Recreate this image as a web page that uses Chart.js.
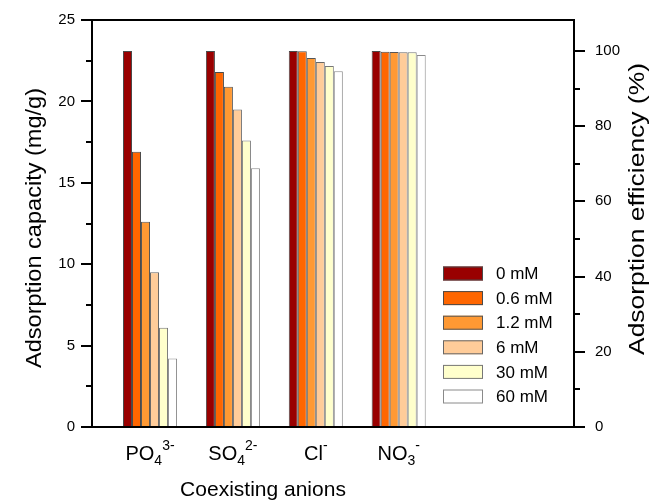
<!DOCTYPE html>
<html>
<head>
<meta charset="utf-8">
<script src="https://cdn.jsdelivr.net/npm/chart.js@4.4.1/dist/chart.umd.min.js"></script>
<style>
html,body{margin:0;padding:0;background:#ffffff;}
#wrap{width:654px;height:501px;position:relative;}
</style>
</head>
<body>
<div id="wrap"><canvas id="c" width="654" height="501"></canvas></div>
<script>
// ---- data ----
const categoryBase = ['PO', 'SO', 'Cl', 'NO'];
const categorySub  = ['4', '4', '', '3'];
const categorySup  = ['3-', '2-', '-', '-'];
const categoryPos  = [1, 2, 3, 4];

const seriesLabels = ['0 mM', '0.6 mM', '1.2 mM', '6 mM', '30 mM', '60 mM'];
const conc0   = [23.1, 23.1, 23.1, 23.1];
const conc0_6 = [16.9, 21.8, 23.08, 23.05];
const conc1_2 = [12.6, 20.9, 22.67, 23.03];
const conc6   = [9.5, 19.5, 22.42, 23.02];
const conc30  = [6.1, 17.6, 22.17, 23.02];
const conc60  = [4.2, 15.9, 21.85, 22.85];
const seriesValues = [conc0, conc0_6, conc1_2, conc6, conc30, conc60];

const leftTicks  = [0, 5, 10, 15, 20, 25];
const rightTicks = [0, 20, 40, 60, 80, 100];

// ---- styles ----
const fillColors   = ['#990000', '#FF6600', '#FF9933', '#FFCC99', '#FFFFCC', '#FFFFFF'];
const borderColors = ['#4a4a4a', '#4a4a4a', '#555555', '#666666', '#777777', '#8a8a8a'];
const FONT = "'Liberation Sans', Arial, Helvetica, sans-serif";

const leftMax = 25;
const rightMax = leftMax / conc0[0] * 100;

const datasets = seriesValues.map((vals, k) => ({
  label: seriesLabels[k],
  data: vals.map((v, i) => ({ x: categoryPos[i], y: v })),
  backgroundColor: fillColors[k],
  borderColor: borderColors[k],
  borderWidth: 1,
  borderSkipped: 'bottom',
  categoryPercentage: 0.652,
  barPercentage: 1.0,
  xAxisID: 'x',
  yAxisID: 'y'
}));

function drawRotatedTitle(ctx, text, x, yCenter, size, targetLen) {
  ctx.save();
  ctx.font = size + 'px ' + FONT;
  const w = ctx.measureText(text).width;
  const sx = targetLen / w;
  ctx.translate(x, yCenter);
  ctx.rotate(-Math.PI / 2);
  ctx.scale(sx, 1);
  ctx.textAlign = 'center';
  ctx.textBaseline = 'alphabetic';
  ctx.fillText(text, 0, 0);
  ctx.restore();
}

const framePlugin = {
  id: 'frame',
  afterDraw(chart) {
    const ctx = chart.ctx;
    const a = chart.chartArea;
    const yL = chart.scales.y, yR = chart.scales.y2, x = chart.scales.x;
    ctx.save();
    ctx.strokeStyle = '#000';
    ctx.lineWidth = 2;
    ctx.lineCap = 'square';
    ctx.beginPath();
    ctx.rect(a.left, a.top, a.right - a.left, a.bottom - a.top);
    ctx.stroke();
    ctx.lineCap = 'butt';
    for (let v = 0; v <= leftMax + 1e-6; v += 2.5) {
      const py = Math.round(yL.getPixelForValue(v));
      const major = leftTicks.some(t => Math.abs(t - v) < 1e-6);
      const len = major ? 11 : 6;
      ctx.beginPath();
      ctx.moveTo(a.left, py);
      ctx.lineTo(a.left - len, py);
      ctx.stroke();
    }
    for (let v = 0; v <= 100 + 1e-6; v += 10) {
      const py = Math.round(yR.getPixelForValue(v));
      const major = rightTicks.some(t => Math.abs(t - v) < 1e-6);
      const len = major ? 11 : 6;
      ctx.beginPath();
      ctx.moveTo(a.right, py);
      ctx.lineTo(a.right + len, py);
      ctx.stroke();
    }
    // category labels with sub/superscripts
    ctx.fillStyle = '#000';
    ctx.textBaseline = 'alphabetic';
    const baseY = 460;
    for (let i = 0; i < categoryBase.length; i++) {
      const cx = x.getPixelForValue(categoryPos[i]);
      ctx.font = '20px ' + FONT;
      const wb = ctx.measureText(categoryBase[i]).width;
      ctx.font = '14px ' + FONT;
      const ws = categorySub[i] ? ctx.measureText(categorySub[i]).width : 0;
      const wp = ctx.measureText(categorySup[i]).width;
      const total = wb + ws + wp;
      let px = cx - total / 2;
      ctx.textAlign = 'left';
      ctx.font = '20px ' + FONT;
      ctx.fillText(categoryBase[i], px, baseY);
      px += wb;
      ctx.font = '14px ' + FONT;
      if (categorySub[i]) {
        ctx.fillText(categorySub[i], px, baseY + 5);
      }
      ctx.fillText(categorySup[i], px + ws, baseY - 10);
    }
    // x axis title
    ctx.font = '21px ' + FONT;
    ctx.textAlign = 'center';
    ctx.fillText('Coexisting anions', 263, 496);
    // y titles
    drawRotatedTitle(ctx, 'Adsorption capacity (mg/g)', 41, 228, 22, 280);
    drawRotatedTitle(ctx, 'Adsorption efficiency (%)', 644, 209, 22, 292);
    // legend
    const lx = 443, ly0 = 273.5, step = 24.6;
    ctx.textAlign = 'left';
    ctx.textBaseline = 'middle';
    ctx.font = '17px ' + FONT;
    chart.data.datasets.forEach((ds, k) => {
      const cy = ly0 + k * step;
      ctx.fillStyle = ds.backgroundColor;
      ctx.fillRect(lx, cy - 7, 40, 14);
      ctx.strokeStyle = ds.borderColor;
      ctx.lineWidth = 1;
      ctx.strokeRect(lx + 0.5, cy - 6.5, 39, 13);
      ctx.fillStyle = '#000';
      ctx.fillText(ds.label, 496, cy + 1);
    });
    ctx.restore();
  }
};

function fixY(width) {
  return s => { s.width = width; s.paddingTop = 0; s.paddingBottom = 0; };
}

new Chart(document.getElementById('c'), {
  type: 'bar',
  data: { datasets },
  options: {
    responsive: false,
    animation: false,
    layout: { padding: { top: 20, left: 0, right: 0, bottom: 0 } },
    plugins: { legend: { display: false }, tooltip: { enabled: false } },
    scales: {
      x: {
        type: 'linear',
        min: 0.3,
        max: 6.115,
        offset: false,
        grid: { display: false, drawTicks: false },
        border: { display: false },
        ticks: { display: false, stepSize: 1, includeBounds: false },
        afterFit: s => { s.height = 74; s.paddingLeft = 0; s.paddingRight = 0; }
      },
      y: {
        position: 'left',
        min: 0,
        max: leftMax,
        grid: { display: false, drawTicks: false },
        border: { display: false },
        ticks: {
          stepSize: 2.5,
          padding: 17,
          color: '#000',
          font: { family: FONT, size: 15 },
          callback: v => leftTicks.includes(v) ? String(v) : ''
        },
        afterFit: fixY(92)
      },
      y2: {
        position: 'right',
        min: 0,
        max: rightMax,
        grid: { display: false, drawTicks: false },
        border: { display: false },
        ticks: {
          stepSize: 10,
          includeBounds: false,
          padding: 21,
          color: '#000',
          font: { family: FONT, size: 15 },
          callback: v => rightTicks.includes(v) ? String(v) : ''
        },
        afterFit: fixY(80)
      }
    }
  },
  plugins: [framePlugin]
});
</script>
</body>
</html>
